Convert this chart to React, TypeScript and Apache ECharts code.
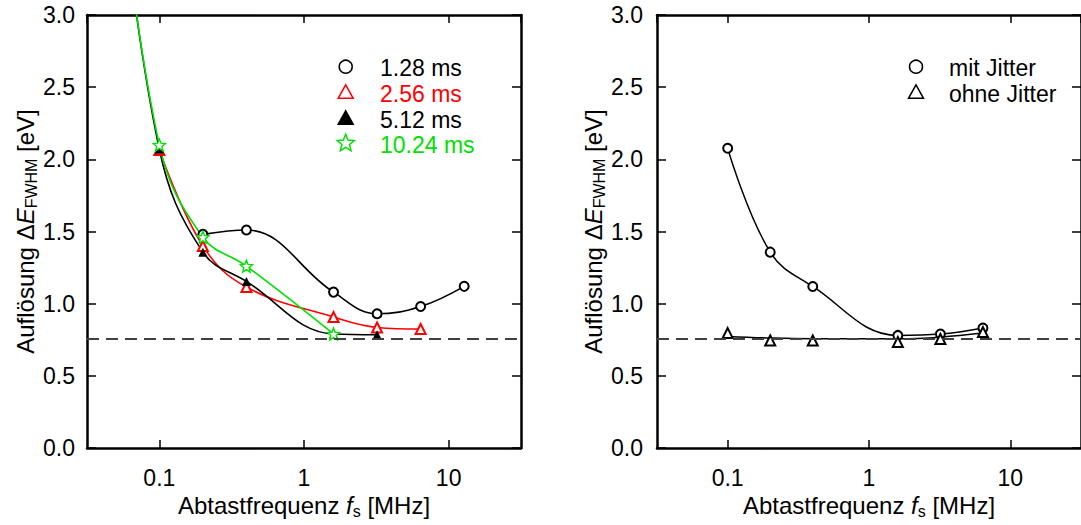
import React, { useEffect, useRef } from 'react';
import * as echarts from 'echarts';

// ---------- data ----------
const freqLeft = [0.05, 0.1, 0.2, 0.4, 1.6, 3.2, 6.4, 12.8];
const res128 = [null, null, 1.48, 1.51, 1.08, 0.93, 0.98, 1.12];
const res256 = [null, 2.065, 1.4, 1.115, 0.907, 0.835, 0.824, null];
const res512 = [4.2, 2.07, 1.357, 1.154, 0.79, 0.785, null, null];
const res1024 = [4.2, 2.1, 1.46, 1.26, 0.79, null, null, null];

const freqRight = [0.1, 0.2, 0.4, 1.6, 3.2, 6.4];
const mitJitter = [2.077, 1.357, 1.119, 0.78, 0.789, 0.831];
const ohneJitter = [0.796, 0.745, 0.745, 0.734, 0.755, 0.803];
const ohneJitterFit = [0.773, 0.762, 0.757, 0.757, 0.768, 0.796];

const baselineValue = 0.76;

const xTickValues = [0.1, 1, 10];
const xTickLabels = ['0.1', '1', '10'];
const legendLeftLabels = ['1.28 ms', '2.56 ms', '5.12 ms', '10.24 ms'];
const legendRightLabels = ['mit Jitter', 'ohne Jitter'];

// ---------- style ----------
const FONT = '"Liberation Sans", Arial, Helvetica, sans-serif';
const RED = '#ff0000';
const GREEN = '#00e000';
const BLACK = '#000000';

const pairs = (xs: number[], ys: (number | null)[]) =>
  xs.map((x, i) => (ys[i] == null ? null : [x, ys[i]])).filter((p) => p !== null) as number[][];

const starPts = (cx: number, cy: number, R: number, r: number) => {
  const pts: number[][] = [];
  for (let i = 0; i < 10; i++) {
    const rad = i % 2 === 0 ? R : r;
    const a = -Math.PI / 2 + (i * Math.PI) / 5;
    pts.push([cx + rad * Math.cos(a), cy + rad * Math.sin(a)]);
  }
  return pts;
};
const starSymbol =
  'path://' +
  starPts(10, 10, 10, 4.4)
    .map((p, i) => (i === 0 ? 'M' : 'L') + p[0].toFixed(3) + ' ' + p[1].toFixed(3))
    .join(' ') +
  ' Z';

const fmtX = (v: number) => {
  const i = xTickValues.findIndex((t) => Math.abs(Math.log10(v) - Math.log10(t)) < 1e-6);
  return i >= 0 ? xTickLabels[i] : '';
};

const X_MIN = Math.pow(10, -1.5);
const X_MAX = Math.pow(10, 1.5);

const frameLine = { show: true, onZero: false, lineStyle: { color: BLACK, width: 2.5 } };

const xName = '{t|Abtastfrequenz }{i|f}{s|s}{t| [MHz]}';
const yName = '{t|Auflösung Δ}{i|E}{s|FWHM}{t| [eV]}';
const nameRich = {
  t: { fontSize: 24, fontFamily: FONT, color: BLACK, lineHeight: 24 },
  i: { fontSize: 24, fontFamily: FONT, color: BLACK, fontStyle: 'italic', lineHeight: 24 },
  s: { fontSize: 16, fontFamily: FONT, color: BLACK, padding: [12, 0, 0, 0] },
};

const xBottom = (gi: number) => ({
  type: 'log',
  logBase: 10,
  gridIndex: gi,
  min: X_MIN,
  max: X_MAX,
  splitNumber: 3,
  position: 'bottom',
  axisLine: frameLine,
  axisTick: { show: true, inside: true, length: 8, lineStyle: { color: BLACK, width: 1.5 } },
  minorTick: { show: false },
  splitLine: { show: false },
  axisLabel: {
    show: true,
    fontSize: 23,
    fontFamily: FONT,
    color: BLACK,
    margin: 18,
    formatter: fmtX,
    showMinLabel: false,
    showMaxLabel: false,
  },
  name: xName,
  nameLocation: 'middle',
  nameGap: 43,
  nameTextStyle: { rich: nameRich },
});

const xTop = (gi: number) => ({
  type: 'log',
  logBase: 10,
  gridIndex: gi,
  min: X_MIN,
  max: X_MAX,
  splitNumber: 3,
  position: 'top',
  axisLine: frameLine,
  axisTick: { show: true, inside: true, length: 8, lineStyle: { color: BLACK, width: 1.5 } },
  minorTick: { show: false },
  splitLine: { show: false },
  axisLabel: { show: false },
});

const yLeft = (gi: number, margin: number) => ({
  type: 'value',
  gridIndex: gi,
  min: 0,
  max: 3,
  interval: 0.5,
  position: 'left',
  axisLine: frameLine,
  axisTick: { show: true, inside: true, length: 9, lineStyle: { color: BLACK, width: 1.5 } },
  splitLine: { show: false },
  axisLabel: {
    fontSize: 23,
    fontFamily: FONT,
    color: BLACK,
    margin,
    formatter: (v: number) => v.toFixed(1),
  },
  name: yName,
  nameLocation: 'middle',
  nameGap: 48,
  nameTextStyle: { rich: nameRich },
});

const yRight = (gi: number) => ({
  type: 'value',
  gridIndex: gi,
  min: 0,
  max: 3,
  interval: 0.5,
  position: 'right',
  axisLine: frameLine,
  axisTick: { show: true, inside: true, length: 9, lineStyle: { color: BLACK, width: 1.5 } },
  splitLine: { show: false },
  axisLabel: { show: false },
});

const dashed = {
  silent: true,
  symbol: 'none',
  label: { show: false },
  lineStyle: { color: '#404040', type: [12, 7], width: 2 },
  data: [{ yAxis: baselineValue }],
};

const legendText = (x: number, y: number, text: string, color: string) => ({
  type: 'text',
  x,
  y,
  style: { text, fill: color, font: `23px ${FONT}`, verticalAlign: 'middle', align: 'left' },
});
const legendCircle = (cx: number, cy: number, color: string) => ({
  type: 'circle',
  shape: { cx, cy, r: 6.5 },
  style: { fill: '#fff', stroke: color, lineWidth: 1.5 },
});
const legendTri = (cx: number, cy: number, color: string, filled: boolean) => ({
  type: 'polygon',
  shape: { points: [[cx, cy - 7.5], [cx + 7.5, cy + 6], [cx - 7.5, cy + 6]] },
  style: { fill: filled ? color : '#fff', stroke: color, lineWidth: 1.5 },
});
const legendStar = (cx: number, cy: number, color: string) => ({
  type: 'polygon',
  shape: { points: starPts(cx, cy, 9, 4) },
  style: { fill: '#fff', stroke: color, lineWidth: 1.5 },
});

export default function App() {
  const ref = useRef<HTMLDivElement>(null);

  useEffect(() => {
    document.body.style.margin = '0';
    if (!ref.current) return;
    const chart = echarts.init(ref.current, null, { renderer: 'svg' });

    const lineBase = { type: 'line', smooth: 0.4, clip: true, showSymbol: true, z: 3 };

    const option: any = {
      animation: false,
      backgroundColor: '#ffffff',
      textStyle: { fontFamily: FONT },
      grid: [
        { left: 87, top: 15, width: 434, height: 433, containLabel: false },
        { left: 657, top: 15, width: 433, height: 433, containLabel: false },
      ],
      xAxis: [xBottom(0), xTop(0), xBottom(1), xTop(1)],
      yAxis: [yLeft(0, 12), yRight(0), yLeft(1, 14), yRight(1)],
      series: [
        {
          ...lineBase,
          name: legendLeftLabels[0],
          xAxisIndex: 0,
          yAxisIndex: 0,
          data: pairs(freqLeft, res128),
          symbol: 'emptyCircle',
          symbolSize: 9,
          lineStyle: { color: BLACK, width: 1.6 },
          itemStyle: { color: BLACK, borderWidth: 1.4 },
          markLine: dashed,
        },
        {
          ...lineBase,
          name: legendLeftLabels[1],
          xAxisIndex: 0,
          yAxisIndex: 0,
          data: pairs(freqLeft, res256),
          symbol: 'emptyTriangle',
          symbolSize: 10,
          lineStyle: { color: RED, width: 1.6 },
          itemStyle: { color: RED, borderWidth: 1.4 },
        },
        {
          ...lineBase,
          name: legendLeftLabels[2],
          xAxisIndex: 0,
          yAxisIndex: 0,
          data: pairs(freqLeft, res512),
          symbol: 'triangle',
          symbolSize: 9,
          lineStyle: { color: BLACK, width: 1.6 },
          itemStyle: { color: BLACK },
        },
        {
          ...lineBase,
          name: legendLeftLabels[3],
          xAxisIndex: 0,
          yAxisIndex: 0,
          data: pairs(freqLeft, res1024),
          symbol: starSymbol,
          symbolSize: 12,
          lineStyle: { color: GREEN, width: 1.6 },
          itemStyle: { color: '#ffffff', borderColor: GREEN, borderWidth: 1.4 },
        },
        {
          ...lineBase,
          name: legendRightLabels[0],
          xAxisIndex: 2,
          yAxisIndex: 2,
          data: pairs(freqRight, mitJitter),
          symbol: 'emptyCircle',
          symbolSize: 9,
          lineStyle: { color: BLACK, width: 1.5 },
          itemStyle: { color: BLACK, borderWidth: 1.3 },
          markLine: dashed,
        },
        {
          ...lineBase,
          name: 'ohne Jitter Fit',
          xAxisIndex: 2,
          yAxisIndex: 2,
          data: pairs(freqRight, ohneJitterFit),
          showSymbol: false,
          symbol: 'none',
          lineStyle: { color: BLACK, width: 1.5 },
        },
        {
          type: 'scatter',
          name: legendRightLabels[1],
          xAxisIndex: 2,
          yAxisIndex: 2,
          data: pairs(freqRight, ohneJitter),
          symbol: 'emptyTriangle',
          symbolSize: 10,
          itemStyle: { color: BLACK, borderWidth: 1.3, opacity: 1 },
          z: 4,
        },
      ],
      graphic: [
        legendCircle(345.7, 66.7, BLACK),
        legendTri(345.7, 92.3, RED, false),
        legendTri(345.7, 118.3, BLACK, true),
        legendStar(345.7, 143.3, GREEN),
        legendText(380, 68, legendLeftLabels[0], BLACK),
        legendText(380, 94, legendLeftLabels[1], RED),
        legendText(380, 120, legendLeftLabels[2], BLACK),
        legendText(380, 145, legendLeftLabels[3], GREEN),
        legendCircle(916, 66.7, BLACK),
        legendTri(916, 92.3, BLACK, false),
        legendText(949, 68, legendRightLabels[0], BLACK),
        legendText(949, 94, legendRightLabels[1], BLACK),
      ],
    };

    chart.setOption(option);
    return () => chart.dispose();
  }, []);

  return <div ref={ref} style={{ width: 1081, height: 525, background: '#fff' }} />;
}
